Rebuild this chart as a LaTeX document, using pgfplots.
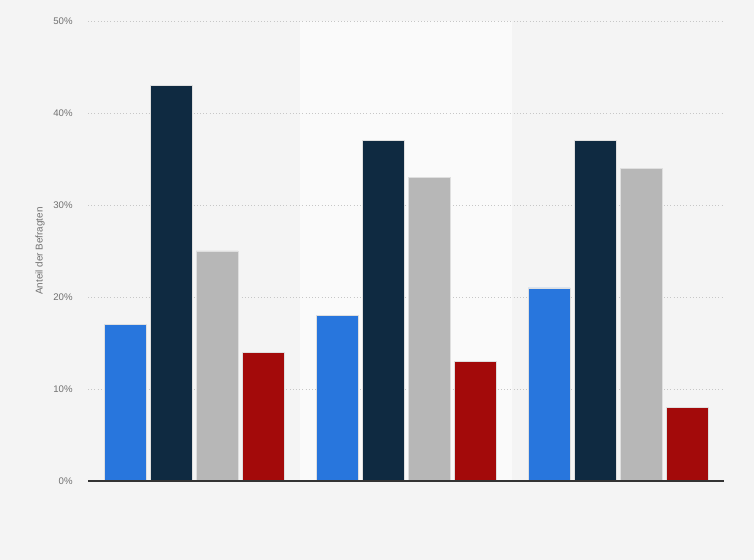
\documentclass[border=0pt]{standalone}
\usepackage{fontspec}
\setmainfont{Liberation Sans}
\usepackage{pgfplots}
\pgfplotsset{compat=1.18}
\definecolor{bg}{HTML}{F4F4F4}
\definecolor{band}{HTML}{FAFAFA}
\definecolor{cblue}{HTML}{2876DD}
\definecolor{cnavy}{HTML}{0F2A41}
\definecolor{cgray}{HTML}{B7B7B7}
\definecolor{cred}{HTML}{A30A0A}
\definecolor{ticktext}{HTML}{707070}
\begin{document}
\begin{tikzpicture}
\begin{axis}[
    set layers=standard,
    clip=false,
    scale only axis,
    width=477pt, height=345pt,
    xmin=-0.5, xmax=2.5,
    ymin=0, ymax=50,
    ybar=3pt,
    bar width=31.5pt,
    xtick=\empty,
    ytick={0,10,20,30,40,50},
    yticklabels={0\%,10\%,20\%,30\%,40\%,50\%},
    major tick length=0pt,
    ymajorgrids,
    grid style={dotted, color=black!22, line width=0.6pt},
    axis line style={draw=none},
    yticklabel style={font=\fontsize{7.2}{8}\selectfont, text=ticktext, xshift=-8pt},
    ylabel={Anteil der Befragten},
    ylabel style={at={(axis description cs:-0.0755,0.5)}, anchor=center,
                  font=\fontsize{7.4}{8}\selectfont, text=ticktext},
    every axis plot/.append style={draw=white!75!gray, line width=0.4pt},
]
% page background and lighter band of the middle group
\begin{pgfonlayer}{axis background}
\fill[bg] (rel axis cs:-0.13836,-0.17174) rectangle (rel axis cs:1.04717,1.04565);
\fill[band] (axis cs:0.5,0) rectangle (axis cs:1.5,50);
\end{pgfonlayer}
\addplot[fill=cblue] coordinates {(0,17) (1,18) (2,21)};
\addplot[fill=cnavy] coordinates {(0,43) (1,37) (2,37)};
\addplot[fill=cgray] coordinates {(0,25) (1,33) (2,34)};
\addplot[fill=cred]  coordinates {(0,14) (1,13) (2,8)};
% baseline drawn over the bars
\begin{pgfonlayer}{axis foreground}
\draw[black!80, line width=1.1pt] (rel axis cs:0,0) -- (rel axis cs:1,0);
\end{pgfonlayer}
\end{axis}
\end{tikzpicture}
\end{document}
